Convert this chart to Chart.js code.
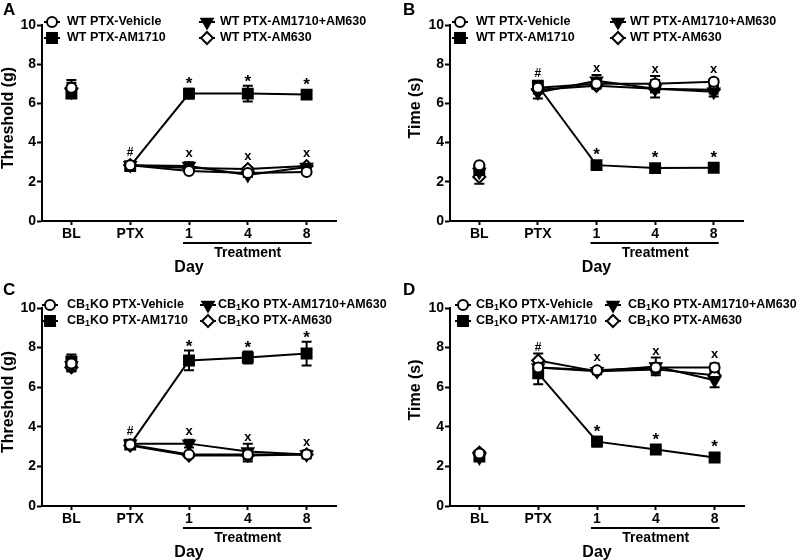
<!DOCTYPE html>
<html>
<head>
<meta charset="utf-8">
<script src="https://cdn.jsdelivr.net/npm/chart.js@4.4.1/dist/chart.umd.min.js"></script>
<style>
  body { margin: 0; background: #fff; }
  #wrap { position: relative; width: 800px; height: 560px; }
  canvas { position: absolute; }
</style>
</head>
<body>
<div id="wrap">
  <canvas id="cA" width="400" height="280" style="left:0;top:0"></canvas>
  <canvas id="cB" width="400" height="280" style="left:400px;top:0"></canvas>
  <canvas id="cC" width="400" height="280" style="left:0;top:280px"></canvas>
  <canvas id="cD" width="400" height="280" style="left:400px;top:280px"></canvas>
</div>
<script>
// x categories
const days = ['BL', 'PTX', '1', '4', '8'];
const yTicks = [0, 2, 4, 6, 8, 10];

const wtNames = ['WT PTX-Vehicle', 'WT PTX-AM1710', 'WT PTX-AM1710+AM630', 'WT PTX-AM630'];
const koNames = ['CB1KO PTX-Vehicle', 'CB1KO PTX-AM1710', 'CB1KO PTX-AM1710+AM630', 'CB1KO PTX-AM630'];

// A - WT threshold (g)
const aVehicle = [6.8, 2.85, 2.55, 2.45, 2.5];
const aVehicleSem = [0.4, 0.1, 0.1, 0.1, 0.1];
const aAM1710 = [6.5, 2.8, 6.5, 6.5, 6.45];
const aAM1710Sem = [0.2, 0.1, 0.25, 0.4, 0.2];
const aCombo = [6.6, 2.85, 2.8, 2.35, 2.75];
const aComboSem = [0.3, 0.1, 0.2, 0.1, 0.1];
const aAM630 = [6.75, 2.85, 2.7, 2.65, 2.8];
const aAM630Sem = [0.3, 0.1, 0.1, 0.1, 0.1];

// B - WT time (s)
const bVehicle = [2.85, 6.8, 7.0, 7.0, 7.1];
const bVehicleSem = [0.1, 0.2, 0.2, 0.4, 0.15];
const bAM1710 = [2.6, 6.9, 2.85, 2.7, 2.72];
const bAM1710Sem = [0.15, 0.15, 0.1, 0.1, 0.1];
const bCombo = [2.5, 6.55, 7.15, 6.75, 6.6];
const bComboSem = [0.2, 0.3, 0.3, 0.45, 0.25];
const bAM630 = [2.25, 6.7, 6.9, 6.75, 6.7];
const bAM630Sem = [0.35, 0.2, 0.15, 0.2, 0.2];

// C - CB1KO threshold (g)
const cVehicle = [7.2, 3.1, 2.6, 2.6, 2.6];
const cVehicleSem = [0.3, 0.15, 0.1, 0.15, 0.1];
const cAM1710 = [7.3, 3.1, 7.35, 7.5, 7.7];
const cAM1710Sem = [0.35, 0.15, 0.5, 0.3, 0.6];
const cCombo = [7.1, 3.15, 3.15, 2.75, 2.6];
const cComboSem = [0.3, 0.15, 0.2, 0.4, 0.2];
const cAM630 = [7.0, 3.05, 2.55, 2.55, 2.6];
const cAM630Sem = [0.2, 0.15, 0.1, 0.3, 0.1];

// D - CB1KO time (s)
const dVehicle = [2.65, 7.0, 6.85, 7.0, 7.0];
const dVehicleSem = [0.1, 0.2, 0.15, 0.2, 0.2];
const dAM1710 = [2.5, 6.7, 3.25, 2.85, 2.45];
const dAM1710Sem = [0.1, 0.55, 0.25, 0.2, 0.1];
const dCombo = [2.45, 7.0, 6.8, 7.05, 6.35];
const dComboSem = [0.1, 0.2, 0.15, 0.45, 0.35];
const dAM630 = [2.7, 7.35, 6.8, 6.9, 6.6];
const dAM630Sem = [0.1, 0.35, 0.1, 0.2, 0.15];

const FONT = '"Liberation Sans", Arial, sans-serif';

// marker look per series: vehicle, AM1710, AM1710+AM630, AM630
const markers = [
  { style: 'circle', radius: 5, rotation: 0, fill: '#fff' },
  { style: 'rect', radius: 7, rotation: 0, fill: '#000' },
  { style: 'triangle', radius: 6.5, rotation: 180, fill: '#000' },
  { style: 'rectRot', radius: 6, rotation: 0, fill: '#fff' }
];

const panels = [
  { id: 'cA', letter: 'A', yTitle: 'Threshold (g)', names: wtNames,
    means: [aVehicle, aAM1710, aCombo, aAM630], sems: [aVehicleSem, aAM1710Sem, aComboSem, aAM630Sem],
    left: 42, right: 336, top: 25, bottom: 221, titleX: 9, titleY: 118,
    legX: [52, 207], legTextX: [67, 220], legY: [22, 38] },
  { id: 'cB', letter: 'B', yTitle: 'Time (s)', names: wtNames,
    means: [bVehicle, bAM1710, bCombo, bAM630], sems: [bVehicleSem, bAM1710Sem, bComboSem, bAM630Sem],
    left: 50, right: 343, top: 25, bottom: 221, titleX: 16, titleY: 108,
    legX: [60, 218], legTextX: [76, 230], legY: [22, 38] },
  { id: 'cC', letter: 'C', yTitle: 'Threshold (g)', names: koNames,
    means: [cVehicle, cAM1710, cCombo, cAM630], sems: [cVehicleSem, cAM1710Sem, cComboSem, cAM630Sem],
    left: 42, right: 336, top: 28, bottom: 226, titleX: 9, titleY: 122,
    legX: [50, 208], legTextX: [67, 218], legY: [25, 41] },
  { id: 'cD', letter: 'D', yTitle: 'Time (s)', names: koNames,
    means: [dVehicle, dAM1710, dCombo, dAM630], sems: [dVehicleSem, dAM1710Sem, dComboSem, dAM630Sem],
    left: 50, right: 344, top: 28, bottom: 226, titleX: 16, titleY: 110,
    legX: [63, 213], legTextX: [76, 228], legY: [25, 41] }
];

function drawMarker(ctx, m, x, y) {
  ctx.save();
  ctx.lineWidth = 2;
  ctx.strokeStyle = '#000';
  ctx.fillStyle = m.fill;
  ctx.beginPath();
  if (m.style === 'circle') {
    ctx.arc(x, y, m.radius, 0, Math.PI * 2);
  } else if (m.style === 'rect') {
    const s = m.radius * Math.SQRT1_2;
    ctx.rect(x - s, y - s, 2 * s, 2 * s);
  } else if (m.style === 'triangle') {
    const r = m.radius;
    ctx.moveTo(x - r * 0.866, y - r * 0.5);
    ctx.lineTo(x + r * 0.866, y - r * 0.5);
    ctx.lineTo(x, y + r);
  } else {
    const r = m.radius;
    ctx.moveTo(x, y - r); ctx.lineTo(x + r, y); ctx.lineTo(x, y + r); ctx.lineTo(x - r, y);
  }
  ctx.closePath();
  ctx.fill();
  ctx.stroke();
  ctx.restore();
}

// writes "CB1KO ..." with a subscript 1
function drawLabel(ctx, text, x, y) {
  ctx.font = 'bold 12.5px ' + FONT;
  ctx.textBaseline = 'middle';
  ctx.textAlign = 'left';
  if (text.startsWith('CB1')) {
    ctx.fillText('CB', x, y);
    x += ctx.measureText('CB').width;
    ctx.font = 'bold 9px ' + FONT;
    ctx.fillText('1', x, y + 3);
    x += ctx.measureText('1').width;
    ctx.font = 'bold 12.5px ' + FONT;
    ctx.fillText(text.slice(3), x, y);
  } else {
    ctx.fillText(text, x, y);
  }
}

function buildChart(p) {
  const datasets = p.means.map((m, i) => ({
    label: p.names[i],
    data: m,
    borderColor: '#000',
    borderWidth: 2,
    fill: false,
    tension: 0,
    pointStyle: markers[i].style,
    pointRadius: markers[i].radius,
    pointRotation: markers[i].rotation,
    pointBackgroundColor: markers[i].fill,
    pointBorderColor: '#000',
    pointBorderWidth: 2,
    // BL is not joined to PTX
    segment: { borderColor: c => c.p0DataIndex === 0 ? 'rgba(0,0,0,0)' : '#000' }
  }));

  const extras = {
    id: 'extras' + p.letter,
    beforeDatasetsDraw(chart) {
      const ctx = chart.ctx, xs = chart.scales.x, ys = chart.scales.y;
      ctx.save();
      ctx.strokeStyle = '#000';
      ctx.lineWidth = 2;
      p.means.forEach((m, i) => {
        m.forEach((v, j) => {
          const e = p.sems[i][j];
          if (!e) return;
          const x = xs.getPixelForValue(j);
          const y1 = ys.getPixelForValue(v + e), y2 = ys.getPixelForValue(v - e);
          ctx.beginPath();
          ctx.moveTo(x, y1); ctx.lineTo(x, y2);
          ctx.moveTo(x - 5, y1); ctx.lineTo(x + 5, y1);
          ctx.moveTo(x - 5, y2); ctx.lineTo(x + 5, y2);
          ctx.stroke();
        });
      });
      ctx.restore();
    },
    afterDraw(chart) {
      const ctx = chart.ctx, xs = chart.scales.x, ys = chart.scales.y;
      const area = chart.chartArea;
      ctx.save();
      ctx.fillStyle = '#000';
      ctx.strokeStyle = '#000';

      // panel letter
      ctx.font = 'bold 17px ' + FONT;
      ctx.textAlign = 'left';
      ctx.textBaseline = 'alphabetic';
      ctx.fillText(p.letter, 3, 15);

      // y title
      ctx.save();
      ctx.translate(p.titleX, p.titleY);
      ctx.rotate(-Math.PI / 2);
      ctx.font = 'bold 16px ' + FONT;
      ctx.textAlign = 'center';
      ctx.textBaseline = 'middle';
      ctx.fillText(p.yTitle, 0, 0);
      ctx.restore();

      // treatment bar, labels
      const x1 = xs.getPixelForValue(2), x4 = xs.getPixelForValue(4), x3 = xs.getPixelForValue(3);
      ctx.lineWidth = 2;
      ctx.beginPath();
      ctx.moveTo(x1 - 6, area.bottom + 22);
      ctx.lineTo(x4 + 5, area.bottom + 22);
      ctx.stroke();
      ctx.textAlign = 'center';
      ctx.textBaseline = 'middle';
      ctx.font = 'bold 14px ' + FONT;
      ctx.fillText('Treatment', x3, area.bottom + 32);
      ctx.font = 'bold 16px ' + FONT;
      ctx.fillText('Day', x1, area.bottom + 47);

      // significance marks
      const topOf = (idx, j) => Math.min(...idx.map(i => Math.min(
        ys.getPixelForValue(p.means[i][j] + p.sems[i][j]),
        ys.getPixelForValue(p.means[i][j]) - 6)));
      ctx.textBaseline = 'alphabetic';
      ctx.font = 'bold 12px ' + FONT;
      ctx.fillText('#', xs.getPixelForValue(1), topOf([0, 1, 2, 3], 1) - 3);
      for (let j = 2; j <= 4; j++) {
        const x = xs.getPixelForValue(j);
        ctx.font = 'bold 17px ' + FONT;
        ctx.fillText('*', x, topOf([1], j) + 1);
        ctx.font = 'bold 13px ' + FONT;
        ctx.fillText('x', x, topOf([0, 2, 3], j) - 3);
      }

      // legend
      const order = [[0, 0], [0, 1], [1, 0], [1, 1]];
      order.forEach(([col, row], i) => {
        const mx = p.legX[col], my = p.legY[row];
        ctx.lineWidth = 2;
        ctx.beginPath();
        ctx.moveTo(mx - 8, my); ctx.lineTo(mx + 8, my);
        ctx.stroke();
        drawMarker(ctx, markers[i], mx, my);
        ctx.fillStyle = '#000';
        drawLabel(ctx, p.names[i], p.legTextX[col], my);
      });
      ctx.restore();
    }
  };

  const tickFont = { family: FONT, size: 14, weight: 'bold' };
  new Chart(document.getElementById(p.id), {
    type: 'line',
    data: { labels: days, datasets },
    options: {
      responsive: false,
      animation: false,
      layout: { padding: { left: 0, top: p.top, right: 400 - p.right, bottom: 0 } },
      plugins: { legend: { display: false }, tooltip: { enabled: false } },
      scales: {
        x: {
          type: 'category',
          offset: true,
          grid: { display: true, drawOnChartArea: false, tickLength: 4, tickColor: '#000', tickWidth: 2 },
          border: { color: '#000', width: 2 },
          ticks: { color: '#000', font: tickFont, padding: 1, maxRotation: 0, autoSkip: false },
          afterFit: s => { s.height = 280 - p.bottom; }
        },
        y: {
          min: 0,
          max: 10,
          grid: { display: true, drawOnChartArea: false, tickLength: 5, tickColor: '#000', tickWidth: 2 },
          border: { color: '#000', width: 2 },
          ticks: { color: '#000', font: tickFont, padding: 1 },
          afterBuildTicks: s => { s.ticks = yTicks.map(v => ({ value: v })); },
          afterFit: s => { s.width = p.left; }
        }
      }
    },
    plugins: [extras]
  });
}

panels.forEach(buildChart);
</script>
</body>
</html>
